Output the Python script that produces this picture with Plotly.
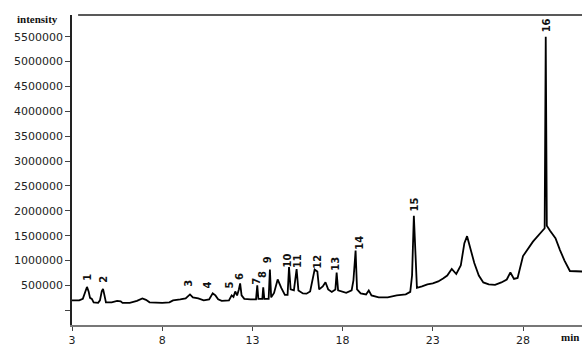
import plotly.graph_objects as go

# retention time (min) and intensity of the chromatogram
time_min = [3.0, 3.4, 3.6, 3.75, 3.83, 3.92, 4.0, 4.1, 4.2, 4.45, 4.55, 4.65, 4.72, 4.8, 4.88,
            5.2, 5.5, 5.7, 5.8, 6.2, 6.6, 6.9, 7.1, 7.3, 7.6, 8.0, 8.4, 8.6, 9.0, 9.3, 9.54,
            9.7, 10.0, 10.3, 10.6, 10.8, 10.95, 11.1, 11.3, 11.7, 11.85, 11.95, 12.05, 12.15,
            12.25, 12.32, 12.4, 12.55, 12.9, 13.2, 13.27, 13.33, 13.55, 13.6, 13.66, 13.9,
            13.97, 14.04, 14.2, 14.4, 14.6, 14.8, 14.95, 15.03, 15.12, 15.3, 15.45, 15.55,
            15.8, 16.0, 16.2, 16.35, 16.45, 16.6, 16.7, 16.9, 17.05, 17.2, 17.4, 17.6, 17.67,
            17.75, 17.95, 18.2, 18.5, 18.6, 18.72, 18.8, 19.0, 19.3, 19.45, 19.6, 20.0, 20.5,
            21.0, 21.5, 21.75, 21.85, 21.95, 22.05, 22.12, 22.4, 22.7, 23.0, 23.3, 23.57,
            23.8, 24.05, 24.3, 24.55, 24.75, 24.9, 25.05, 25.3, 25.55, 25.8, 26.1, 26.45,
            26.8, 27.1, 27.3, 27.5, 27.7, 28.0, 28.55, 29.1, 29.2, 29.26, 29.32, 29.5, 29.8,
            30.05, 30.3, 30.6, 30.9, 31.3]
intensity = [200000, 200000, 230000, 400000, 470000, 380000, 250000, 230000, 160000, 150000,
             200000, 380000, 430000, 300000, 160000, 160000, 190000, 180000, 150000, 150000,
             190000, 240000, 210000, 160000, 150000, 150000, 160000, 200000, 220000, 240000,
             320000, 260000, 240000, 200000, 220000, 340000, 300000, 220000, 190000, 200000,
             300000, 270000, 380000, 300000, 420000, 540000, 300000, 230000, 220000, 220000,
             500000, 230000, 230000, 460000, 230000, 230000, 820000, 260000, 350000, 620000,
             450000, 310000, 310000, 870000, 420000, 400000, 830000, 400000, 340000, 335000,
             380000, 650000, 820000, 780000, 420000, 480000, 565000, 420000, 370000, 420000,
             760000, 400000, 380000, 350000, 400000, 600000, 1200000, 420000, 340000, 320000,
             400000, 300000, 260000, 260000, 300000, 320000, 370000, 700000, 1900000, 1100000,
             450000, 480000, 520000, 540000, 580000, 640000, 700000, 830000, 730000, 900000,
             1350000, 1490000, 1300000, 950000, 700000, 560000, 520000, 510000, 560000, 620000,
             760000, 630000, 650000, 1090000, 1380000, 1600000, 1650000, 5500000, 1700000,
             1600000, 1450000, 1210000, 1000000, 790000, 780000, 780000]

# peak labels (placed at the centre of each label)
peak_labels = ["1", "2", "3", "4", "5", "6", "7", "8", "9", "10", "11", "12", "13", "14", "15", "16"]
label_time = [3.85, 4.74, 9.49, 10.5, 11.72, 12.31, 13.25, 13.53, 13.88, 14.93, 15.54, 16.6,
              17.63, 18.93, 22.01, 29.31]
label_level = [662000, 623000, 535000, 506000, 506000, 690000, 594000, 730000, 1013000, 1005000,
               994000, 985000, 935000, 1365000, 2127000, 5720000]

x_ticks = [3, 8, 13, 18, 23, 28]
y_ticks = [0, 500000, 1000000, 1500000, 2000000, 2500000, 3000000, 3500000, 4000000, 4500000, 5000000, 5500000]
y_ticktext = ["", "500000", "1000000", "1500000", "2000000", "2500000", "3000000", "3500000",
              "4000000", "4500000", "5000000", "5500000"]

fig = go.Figure()
fig.add_trace(go.Scatter(x=time_min, y=intensity, mode="lines",
                         line=dict(color="black", width=1.8), showlegend=False))

for lab, t, h in zip(peak_labels, label_time, label_level):
    fig.add_annotation(x=t, y=h, text="<b>" + lab + "</b>", textangle=-90, showarrow=False,
                       xanchor="center", yanchor="middle",
                       font=dict(family="DejaVu Sans", size=10, color="#111"))

fig.add_annotation(xref="paper", yref="paper", x=-0.067, y=0.987, text="<b>intensity</b>",
                   showarrow=False, xanchor="center", yanchor="middle",
                   font=dict(family="Liberation Serif", size=11, color="#111"))
fig.add_annotation(xref="paper", yref="paper", x=0.976, y=-0.0376, text="<b>min</b>",
                   showarrow=False, xanchor="center", yanchor="middle",
                   font=dict(family="Liberation Serif", size=11, color="#111"))

fig.add_shape(type="line", xref="paper", yref="paper", x0=0.012, x1=1, y0=1, y1=1,
              line=dict(color="#222", width=1.5))

fig.update_layout(
    width=582, height=347,
    margin=dict(l=72, r=0, t=15, b=13),
    paper_bgcolor="white", plot_bgcolor="white",
    xaxis=dict(range=[3, 31.27], tickvals=x_ticks, ticks="outside", ticklen=4,
               showline=True, linecolor="#777", linewidth=1.5, showgrid=False, zeroline=False,
               tickfont=dict(family="DejaVu Sans", size=11, color="#222")),
    yaxis=dict(range=[-295000, 5935000], tickvals=y_ticks, ticktext=y_ticktext,
               ticks="outside", ticklen=5, showline=True, linecolor="#222", linewidth=1.5,
               showgrid=False, zeroline=False,
               tickfont=dict(family="DejaVu Sans", size=11, color="#222")),
)

fig.write_html("out.html", config={"displayModeBar": False},
               post_script="document.body.style.margin='0';document.body.style.overflow='hidden';")
